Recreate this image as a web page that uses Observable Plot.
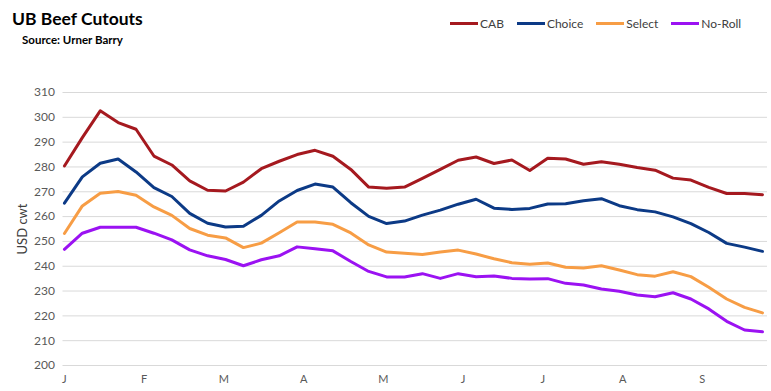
<!DOCTYPE html>
<html><head><meta charset="utf-8">
<script src="https://cdn.jsdelivr.net/npm/d3@7"></script>
<script src="https://cdn.jsdelivr.net/npm/@observablehq/plot@0.6"></script>
<style>
body{margin:0;background:#fff;font-family:Lato,"Open Sans",sans-serif;}
#wrap{position:relative;width:771px;height:391px;overflow:hidden;}
#head{position:relative;width:771px;height:60px;}
.title{position:absolute;left:12px;top:8px;font-weight:bold;font-size:17.5px;color:#000;white-space:nowrap;}
.sub{position:absolute;left:22px;top:33px;font-weight:bold;font-size:11.5px;color:#000;white-space:nowrap;}
.legend{position:absolute;top:16px;left:450px;display:flex;gap:13px;font-size:12px;color:#404040;white-space:nowrap;}
.item{display:flex;align-items:center;}
.sw{width:28px;height:3px;margin-right:2px;}
</style></head>
<body>
<div id="wrap">
  <div id="head">
    <div class="title">UB Beef Cutouts</div>
    <div class="sub">Source: Urner Barry</div>
    <div class="legend" id="legend"></div>
  </div>
  <div id="chart"></div>
</div>
<script>
const seriesNames = ["CAB", "Choice", "Select", "No-Roll"];
const seriesColors = ["#a5191f", "#0c3a86", "#f79d45", "#9b12f2"];
const monthLabels = ["J", "F", "M", "A", "M", "J", "J", "A", "S"];
const yAxisTitle = "USD cwt";

const cab = [280.4, 291.8, 302.6, 297.9, 295.2, 284.4, 280.8, 274.4, 270.6, 270.3,
  273.9, 279.3, 282.3, 285.0, 286.7, 284.3, 279.0, 271.9, 271.4, 271.9,
  275.4, 279.0, 282.7, 284.0, 281.4, 282.8, 278.6, 283.5, 283.2, 281.1,
  282.1, 281.1, 279.8, 278.7, 275.5, 274.7, 271.8, 269.3, 269.3, 268.8];
const choice = [265.4, 276.0, 281.5, 283.2, 278.0, 271.7, 268.1, 261.3, 257.3, 255.8,
  256.1, 260.5, 266.3, 270.5, 273.1, 271.9, 265.6, 260.1, 257.2, 258.2,
  260.6, 262.6, 265.0, 267.0, 263.4, 262.9, 263.3, 265.1, 265.2, 266.4,
  267.2, 264.4, 262.8, 261.9, 259.9, 257.2, 253.6, 249.2, 247.7, 246.0];
const select = [253.2, 264.3, 269.4, 270.1, 268.6, 263.9, 260.5, 255.2, 252.5, 251.4,
  247.5, 249.3, 253.5, 257.8, 257.8, 256.9, 253.4, 248.6, 245.7, 245.2,
  244.7, 245.7, 246.5, 244.9, 243.0, 241.4, 240.8, 241.3, 239.6, 239.3,
  240.2, 238.5, 236.6, 236.0, 237.8, 235.8, 231.5, 226.8, 223.4, 221.2];
const noRoll = [246.8, 253.3, 255.7, 255.7, 255.7, 253.3, 250.6, 246.6, 244.2, 242.7,
  240.2, 242.6, 244.2, 247.8, 247.0, 246.2, 241.9, 237.9, 235.7, 235.7,
  237.0, 235.1, 237.0, 235.8, 236.1, 235.1, 234.9, 235.0, 233.1, 232.4,
  230.8, 229.9, 228.4, 227.7, 229.3, 226.8, 222.8, 217.8, 214.3, 213.6];
const yTicks = [200, 210, 220, 230, 240, 250, 260, 270, 280, 290, 300, 310];

const allSeries = [cab, choice, select, noRoll];
const data = allSeries.flatMap((vals, k) => vals.map((v, i) => ({week: i, value: v, series: seriesNames[k]})));

// month labels sit evenly along the weekly index axis
const monthStep = 4.455;
const monthTicks = monthLabels.map((_, i) => i * monthStep);
const tickLabel = new Map(monthTicks.map((t, i) => [t, monthLabels[i]]));

// legend
const lg = document.getElementById("legend");
seriesNames.forEach((n, k) => {
  const it = document.createElement("div"); it.className = "item";
  const sw = document.createElement("div"); sw.className = "sw"; sw.style.background = seriesColors[k];
  const tx = document.createElement("span"); tx.textContent = n;
  it.appendChild(sw); it.appendChild(tx); lg.appendChild(it);
});

const chart = Plot.plot({
  width: 771, height: 331,
  marginLeft: 62.5, marginRight: 4, marginTop: 32, marginBottom: 26,
  style: {fontFamily: "Lato, 'Open Sans', sans-serif", fontSize: "12px", color: "#595959", background: "#fff"},
  x: {domain: [-0.08, 39.28]},
  y: {domain: [200, 310]},
  color: {domain: seriesNames, range: seriesColors},
  marks: [
    Plot.gridY(yTicks, {stroke: "#d9d9d9", strokeOpacity: 1, strokeWidth: 1}),
    Plot.axisY({ticks: yTicks, tickSize: 0, tickPadding: 8, label: null, fontSize: 12}),
    Plot.text([yAxisTitle], {frameAnchor: "left", rotate: -90, dx: -40, fontSize: 13, fill: "#404040", textAnchor: "middle"}),
    Plot.axisX({ticks: monthTicks, tickFormat: d => tickLabel.get(d), tickSize: 0, tickPadding: 10, label: null, fontSize: 11}),
    Plot.lineY(data, {x: "week", y: "value", z: "series", stroke: "series", strokeWidth: 3, strokeLinejoin: "round", strokeLinecap: "round"})
  ]
});
document.getElementById("chart").appendChild(chart);
</script>
</body></html>
